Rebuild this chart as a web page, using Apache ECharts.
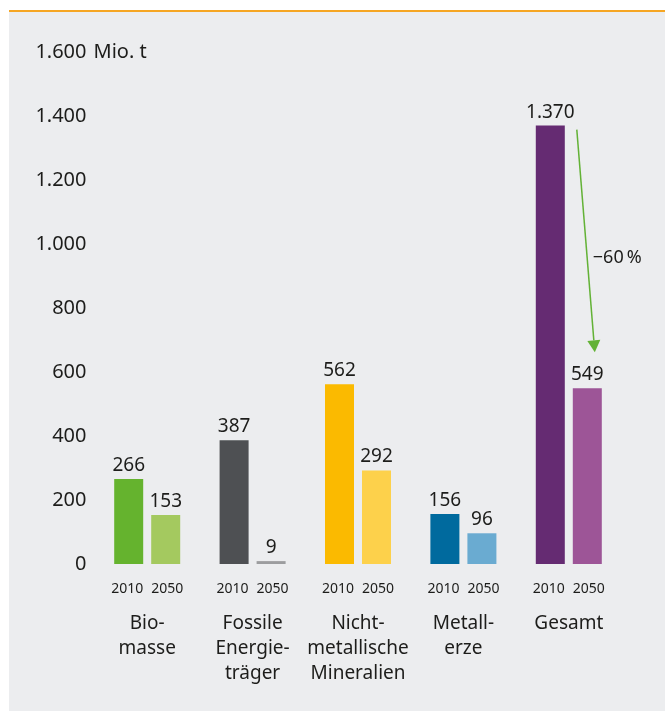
<!DOCTYPE html>
<html><head><meta charset="utf-8">
<script src="https://cdn.jsdelivr.net/npm/echarts@6/dist/echarts.min.js"></script>
<style>
html,body{margin:0;padding:0;background:#fff;width:665px;height:711px;overflow:hidden}
#bg{position:absolute;left:9px;top:10px;width:656px;height:701px;background:#ecedef;border-top:2.5px solid #f6a623;box-sizing:border-box}
#chart{position:absolute;left:0;top:0;width:665px;height:711px}
</style></head><body>
<div id="bg"></div><div id="chart"></div>
<script>
const categories = ['Bio-\nmasse', 'Fossile\nEnergie-\ntr\u00e4ger', 'Nicht-\nmetallische\nMineralien', 'Metall-\nerze', 'Gesamt'];
const years = ['2010', '2050'];
const values2010 = [266, 387, 562, 156, 1370];
const values2050 = [153, 9, 292, 96, 549];
const yMin = 0, yMax = 1600, yStep = 200;
const unitLabel = 'Mio. t';
const changeLabel = '\u221260\u202f%';
const colors2010 = ['#65b32e', '#4e5053', '#fbba00', '#006a9e', '#652b72'];
const colors2050 = ['#a4c95f', '#9c9d9f', '#fdd14b', '#6aabd1', '#9d5597'];

const FONT = '"Noto Sans", "Open Sans", sans-serif';
const TXT = '#1d1d1b';
const de = v => String(v).replace(/\B(?=(\d{3})+(?!\d))/g, '.');

const chart = echarts.init(document.getElementById('chart'), null, {renderer: 'canvas'});

function barSeries(name, vals, cols) {
  return {
    name: name, type: 'bar', barWidth: 29, barGap: '27.6%',
    data: vals.map((v, i) => ({value: v, itemStyle: {color: cols[i]}})),
    label: {show: true, position: 'top', distance: 4, fontSize: 19, color: TXT, fontFamily: FONT,
      formatter: p => de(p.value)},
    emphasis: {disabled: true}
  };
}

chart.setOption({
  animation: false,
  textStyle: {fontFamily: FONT},
  grid: {left: 94.5, right: 43.5, top: 52, bottom: 147, outerBoundsMode: 'none', containLabel: false},
  xAxis: {
    type: 'category', data: categories,
    axisLine: {show: false}, axisTick: {show: false}, splitLine: {show: false},
    axisLabel: {
      interval: 0, margin: 4, hideOverlap: false, color: TXT, fontFamily: FONT,
      formatter: v => '{y|' + years[0] + '}{y|' + years[1] + '}\n' +
        v.split('\n').map(s => '{c|' + s + '}').join('\n'),
      rich: {
        y: {fontSize: 14, width: 40, align: 'center', lineHeight: 43, color: TXT, fontFamily: FONT},
        c: {fontSize: 19, lineHeight: 25, align: 'center', color: TXT, fontFamily: FONT}
      }
    }
  },
  yAxis: {
    type: 'value', min: yMin, max: yMax, interval: yStep,
    axisLine: {show: false}, axisTick: {show: false}, splitLine: {show: false},
    axisLabel: {margin: 8, fontSize: 20, color: TXT, fontFamily: FONT, formatter: v => de(v)},
    name: unitLabel, nameLocation: 'end', nameGap: 0,
    nameTextStyle: {align: 'left', verticalAlign: 'middle', fontSize: 20, color: TXT, fontFamily: FONT, padding: [0, 0, 0, -1]}
  },
  series: [barSeries(years[0], values2010, colors2010), barSeries(years[1], values2050, colors2050)]
});

// annotation arrow between total 2010 and total 2050
const last = categories.length - 1;
const pA = chart.convertToPixel({xAxisIndex: 0, yAxisIndex: 0}, [last, values2010[last]]);
const pB = chart.convertToPixel({xAxisIndex: 0, yAxisIndex: 0}, [last, values2050[last]]);
const sx = pA[0] + 8, sy = pA[1] + 4;
const tx = pA[0] + 26, ty = pB[1] - 36;
const dx = tx - sx, dy = ty - sy, len = Math.hypot(dx, dy);
const ux = dx / len, uy = dy / len, px = uy, py = -ux;
const bx = tx - 12 * ux, by = ty - 12 * uy;
const GREEN = '#63b236';
chart.setOption({
  graphic: [
    {type: 'line', silent: true, shape: {x1: sx, y1: sy, x2: bx, y2: by}, style: {stroke: GREEN, lineWidth: 1.5}},
    {type: 'polygon', silent: true, shape: {points: [[tx, ty], [bx + 6.5 * px, by + 6.5 * py], [bx - 6.5 * px, by - 6.5 * py]]}, style: {fill: GREEN}},
    {type: 'text', silent: true, x: pA[0] + 24, y: pB[1] - 130,
      style: {text: changeLabel, fontSize: 18, fill: TXT, fontFamily: FONT, align: 'left', verticalAlign: 'middle'}}
  ]
});
</script>
</body></html>
